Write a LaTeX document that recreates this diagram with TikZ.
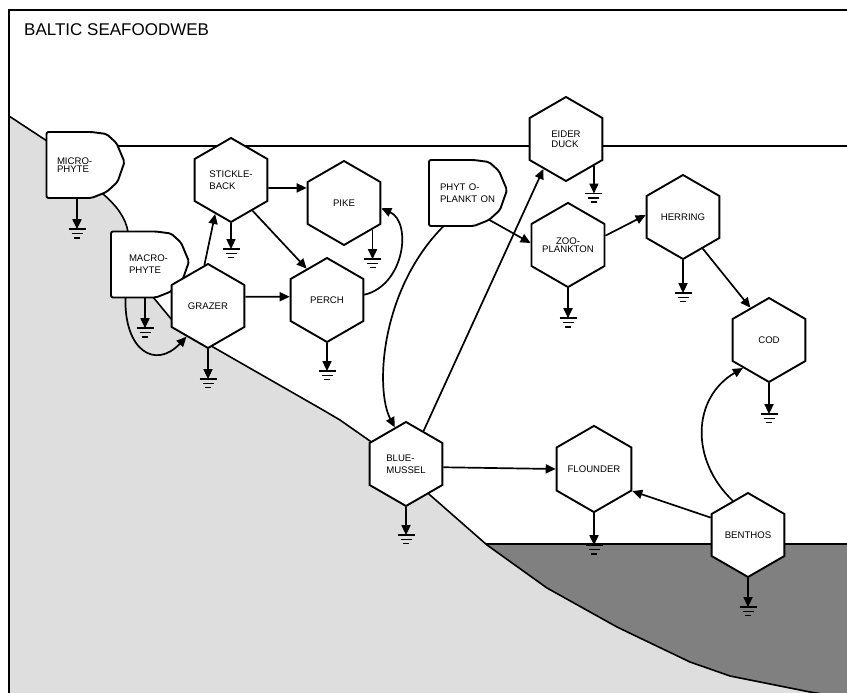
\documentclass[tikz,border=0pt]{standalone}
\usepackage{fontspec}
\setmainfont{Liberation Sans}
\usetikzlibrary{arrows.meta,shapes.geometric}
\definecolor{shore}{HTML}{DEDEDE}
\definecolor{deep}{HTML}{808080}
\pgfdeclarelayer{sea}
\pgfdeclarelayer{plate}
\pgfsetlayers{sea,plate,main}
\newcommand{\coastline}{(9,-116) -- (47,-141) -- (103,-194) .. controls (116,-205) and (126,-218) .. (128,-232)
  -- (153,-297) -- (172,-320) -- (213,-347) -- (323,-410) -- (340,-420) -- (370,-441) -- (430,-495)
  -- (487,-545) -- (547,-588) -- (617,-627) -- (690,-662) -- (730,-676) -- (810,-692) -- (847,-698)}
\newcommand{\plantline}[1]{%
  \begin{pgfonlayer}{plate}
  \draw[plantedge] ([shift={(-39.5,33)}]#1.center) -- ++(45,0) -- ++(15,-2) -- ++(10,-9)
    -- ++(8,-19) -- ++(-7,-20) -- ++(-11,-10) -- ++(-15,-6) -- ++(-45,0) -- cycle;
  \end{pgfonlayer}}
\tikzset{earth/.pic={\draw[line width=1.5pt] (-8.5,0) -- (8.5,0) (-5.5,-4.3) -- (5.5,-4.3) (-3,-8.6) -- (3,-8.6);}}

\begin{document}
\begin{tikzpicture}[x=1pt, y=1pt,
  hexa/.style={regular polygon, regular polygon sides=6, shape border rotate=30,
    draw, line width=1.9pt, fill=white, minimum size=84pt, inner sep=0pt,
    font=\fontsize{9.6}{12}\selectfont, align=left},
  plant/.style={rectangle, minimum width=79pt, minimum height=66pt, inner sep=0pt,
    font=\fontsize{9.6}{12}\selectfont, align=left},
  plantedge/.style={line width=1.9pt, fill=white, rounded corners=2pt},
  arr/.style={line width=1.7pt, -{Triangle[length=10pt,width=9pt]}},
  coast/.style={line width=1.6pt},
  title/.style={font=\fontsize{17}{20}\selectfont, inner sep=0pt}]

\useasboundingbox (0,0) rectangle (847,-693);

% sea, shore and bottom
\begin{pgfonlayer}{sea}
  \clip (0,0) rectangle (847,-693);
  \fill[shore] \coastline -- (847,-700) -- (9,-700) -- cycle;
  \fill[deep] (486,-544) -- (847,-544) -- (847,-698) -- (810,-692) -- (730,-676) -- (690,-662)
    -- (617,-627) -- (547,-588) -- cycle;
  \draw[coast] \coastline;
  \draw[coast] (60,-146) -- (847,-146);
  \draw[coast] (486,-544) -- (847,-544);
  \draw[line width=2.4pt] (847,-10) -- (9,-10) -- (9,-693);
\end{pgfonlayer}

\node[title, anchor=west] (title) at (24,-30) {BALTIC SEAFOODWEB};

\node[plant, text width=58pt] (micro) at (86,-165) {MICRO-\\[-4pt]PHYTE};
\plantline{micro}
\node[plant, text width=43pt] (macro) at (150.5,-264.5) {MACRO-\\PHYTE};
\plantline{macro}
\node[plant, text width=57pt] (phyto) at (468.5,-193) {PHYT O-\\PLANKT ON};
\plantline{phyto}

\node[hexa] (stickle) at (231,-180) {STICKLE-\\BACK};
\node[hexa] (pike) at (344,-203) {PIKE};
\node[hexa] (grazer) at (208,-306) {GRAZER};
\node[hexa] (perch) at (327,-300) {PERCH};
\node[hexa] (eider) at (566,-139) {EIDER\\[-2pt]DUCK};
\node[hexa, align=center] (zoo) at (568,-245) {ZOO-\\[-4pt]PLANKTON};
\node[hexa] (herring) at (683,-217) {HERRING};
\node[hexa] (cod) at (769,-340) {COD};
\node[hexa] (mussel) at (406,-464) {BLUE-\\MUSSEL};
\node[hexa] (flounder) at (594,-469) {FLOUNDER};
\node[hexa] (benthos) at (748,-535) {BENTHOS};

\draw[arr] (grazer.95) -- (stickle.-115);
\draw[arr] (stickle.-12) -- (pike.158);
\draw[arr] (stickle.-55) -- (perch.123);
\draw[arr] (grazer.14) -- (perch.175);
\draw[arr] (perch.8) .. controls (405,-285) and (412,-222) .. (pike.-8);
\draw[arr] ([xshift=-25pt]macro.south) .. controls (124,-350) and (155,-370) .. (grazer.-125);
\draw[arr] ([xshift=-25pt]phyto.south) .. controls (380,-290) and (375,-390) .. (mussel.107);
\draw[arr] ([shift={(21,-27)}]phyto.center) -- (zoo.177);
\draw[arr] (mussel.62) -- (eider.-127);
\draw[arr] (zoo.14) -- (herring.177);
\draw[arr] (herring.-58) -- (cod.120);
\draw[arr] (mussel.-5) -- (flounder.west);
\draw[arr] (benthos.155) -- (flounder.-30);
\draw[arr] (benthos.114) .. controls (690,-460) and (692,-398) .. (cod.-133);

% losses to ground
\foreach \nd/\an/\dx/\len in {micro/south/-9/31, macro/south/-5.5/30.5, stickle/south/0/26,
  pike/-43/0/29.5, grazer/south/0/30, perch/south/0/28, eider/-44/0/27.6, zoo/south/0/30,
  herring/south/0/33, cod/south/0/31, mussel/south/0/28, flounder/south/0/32, benthos/south/0/29}
  {\draw[arr] ([xshift=\dx pt]\nd.\an) -- ++(0,-\len) coordinate (\nd-e);
   \pic at (\nd-e) {earth};}

\end{tikzpicture}
\end{document}
